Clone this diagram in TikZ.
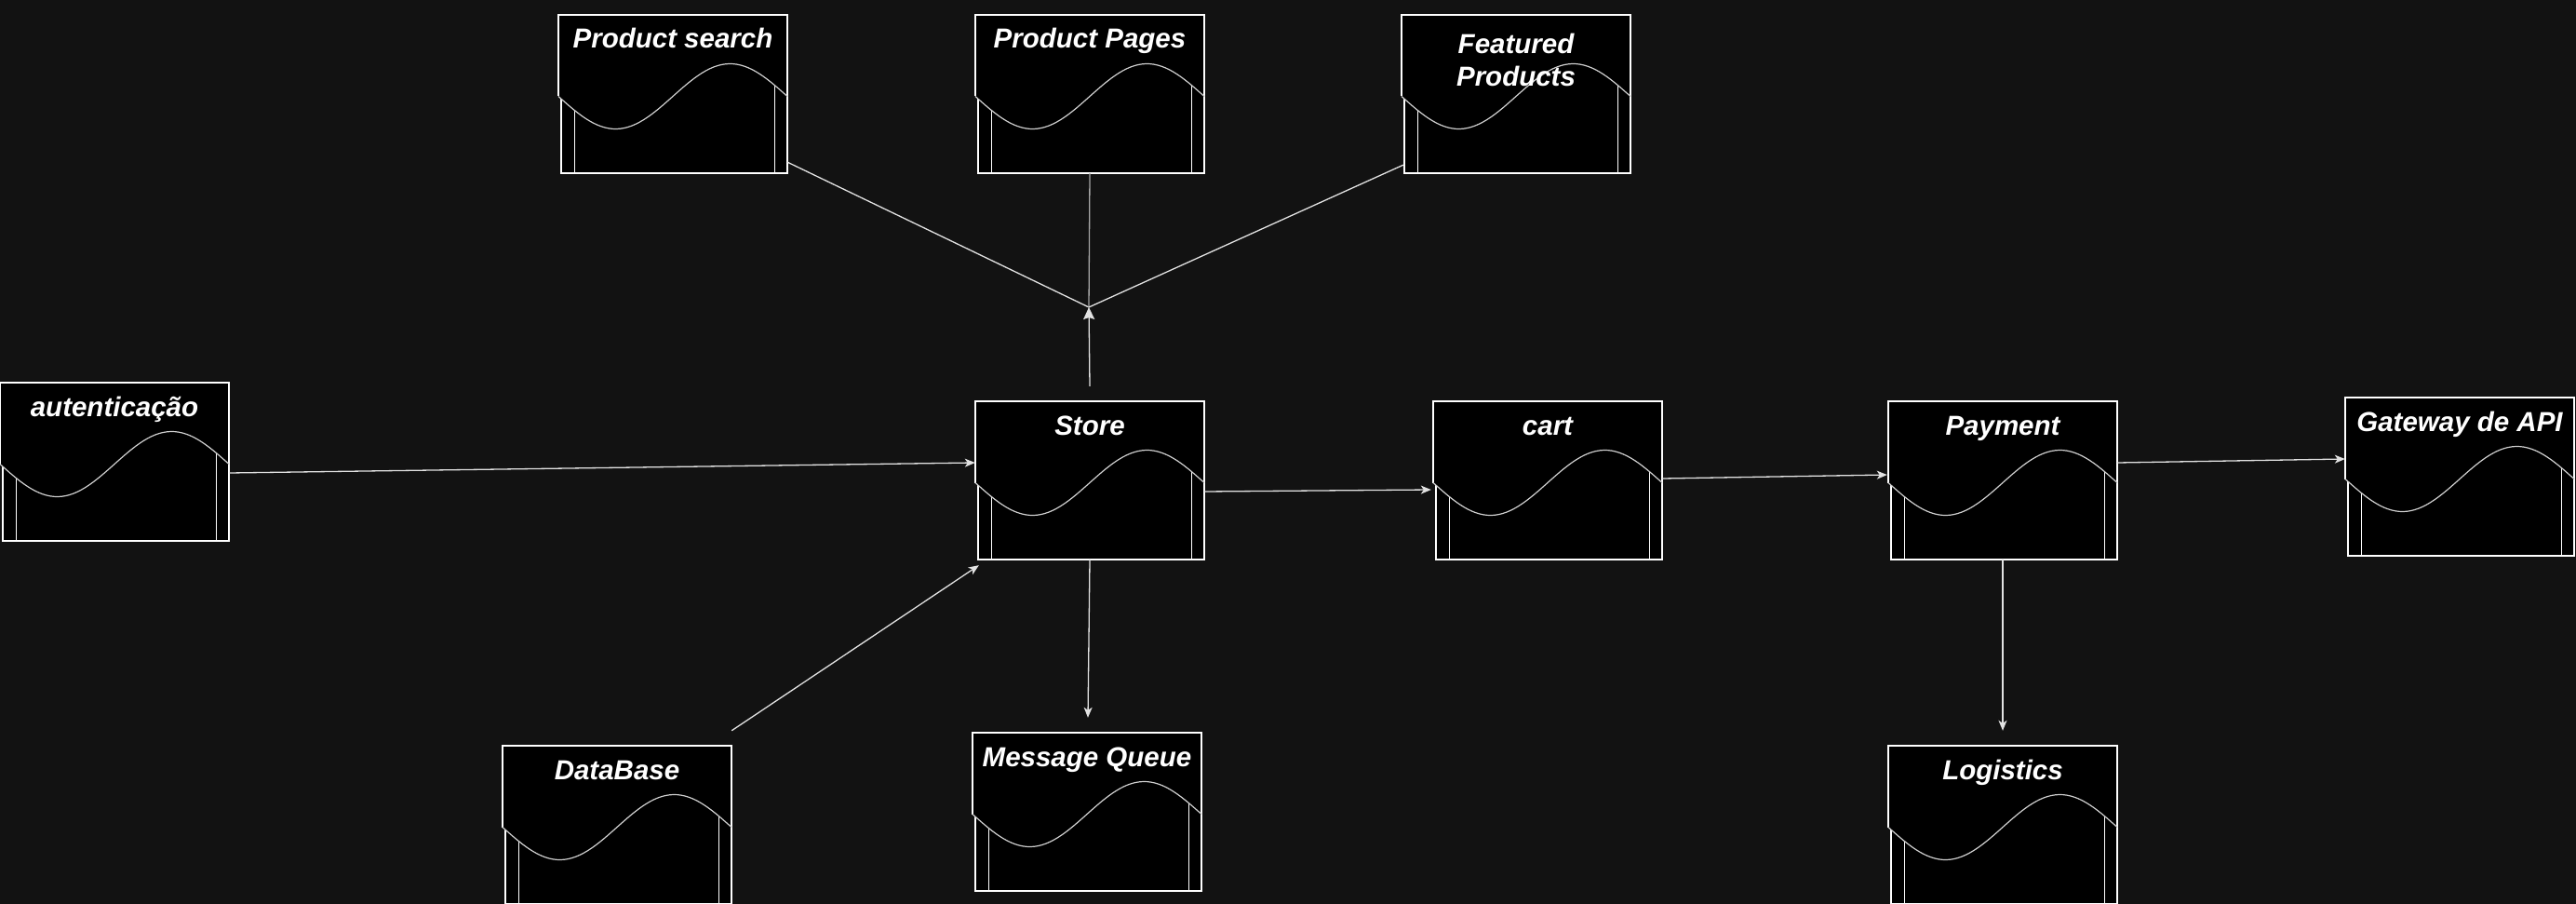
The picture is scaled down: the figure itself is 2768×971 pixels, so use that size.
\documentclass[tikz,border=0pt]{standalone}
\usepackage{fontspec}
\setmainfont{Liberation Sans}
\usetikzlibrary{arrows.meta,calc}

\definecolor{bgdark}{HTML}{121212}
\definecolor{wavegray}{HTML}{CFCFCF}
\definecolor{linegray}{HTML}{E2E2E2}

\tikzset{
	boxline/.style={draw=white, line width=1.5pt},
	waveline/.style={draw=wavegray, line width=1.2pt},
	plain/.style={draw=linegray, line width=1.3pt},
	conn/.style={plain, -{Stealth[length=11pt,width=9pt,inset=3pt]}},
	hubconn/.style={plain, -{Stealth[length=13pt,width=12pt,inset=2pt]}},
	boxlabel/.style={text=white, font=\fontsize{29.5}{35}\selectfont\bfseries\itshape, inner sep=0pt, anchor=base},
}

% #1 label baseline, #2 name, #3 top left corner, #4 label
\newcommand{\docnode}[4][36]{%
	\begin{scope}[shift={(#3)}]
		\filldraw[boxline, fill=black] (3,40) rectangle (246,170);
		\draw[draw=white, line width=1pt] (17,40) -- (17,170);
		\draw[draw=white, line width=1pt] (232,40) -- (232,170);
		\fill[black] (0,0) -- (246,0) -- (246,87.5) -- plot[domain=246:0, samples=60, variable=\x] ({\x},{87.5+35*sin(1.46341*\x)}) -- cycle;
		\draw[boxline] (0,87.5) -- (0,0) -- (246,0) -- (246,87.5);
		\draw[waveline, domain=0:246, samples=60, variable=\x] plot ({\x},{87.5+35*sin(1.46341*\x)});
		\node[boxlabel] at (123,#1) {#4};
		\node[minimum width=246pt, minimum height=170pt, inner sep=0pt] (#2) at (123,85) {};
	\end{scope}
}

\begin{document}
\begin{tikzpicture}[x=1pt,y=-1pt]
	
	\fill[bgdark] (0,0) rectangle (2768,971);
	\useasboundingbox (0,0) rectangle (2768,971);
	
	\docnode{ps}{600,16}{Product search}
	\docnode{pp}{1048,16}{Product Pages}
	\docnode[42]{fp}{1506,16}{\begin{tabular}[t]{@{}c@{}}Featured\\Products\end{tabular}}
	
	\docnode{auth}{0,411}{autenticação}
	\docnode{store}{1048,431}{Store}
	\docnode{cart}{1540,431}{cart}
	\docnode{pay}{2029,431}{Payment}
	\docnode{gw}{2520,427}{Gateway de API}
	
	\docnode{db}{540,801}{DataBase}
	\docnode{mq}{1045,787}{Message Queue}
	\docnode{logi}{2029,801}{Logistics}
	
	\coordinate (hub) at (1170,330);
	\draw[plain] ($(ps.south east)+(0,-12)$) -- (hub);
	\draw[plain, draw=gray!70] (pp.south) -- (hub);
	\draw[plain] ($(fp.south west)+(2,-9)$) -- (hub);
	\draw[hubconn] ($(store.north)+(0,-16)$) -- (hub);
	
	\draw[conn] ($(auth.east)+(0,12)$) -- ($(store.west)+(0,-19)$);
	\draw[conn] ($(store.east)+(0,12)$) -- ($(cart.west)+(-2,10)$);
	\draw[conn] ($(cart.east)+(0,-2)$) -- ($(pay.west)+(-1,-6)$);
	\draw[conn] ($(pay.east)+(0,-19)$) -- ($(gw.west)+(0,-19)$);
	
	\draw[conn] ($(db.north east)+(0,-16)$) -- ($(store.south west)+(4,6)$);
	\draw[conn] (store.south) -- ($(mq.north)+(1,-16)$);
	\draw[conn] (pay.south) -- ($(logi.north)+(0,-16)$);
	
\end{tikzpicture}
\end{document}
